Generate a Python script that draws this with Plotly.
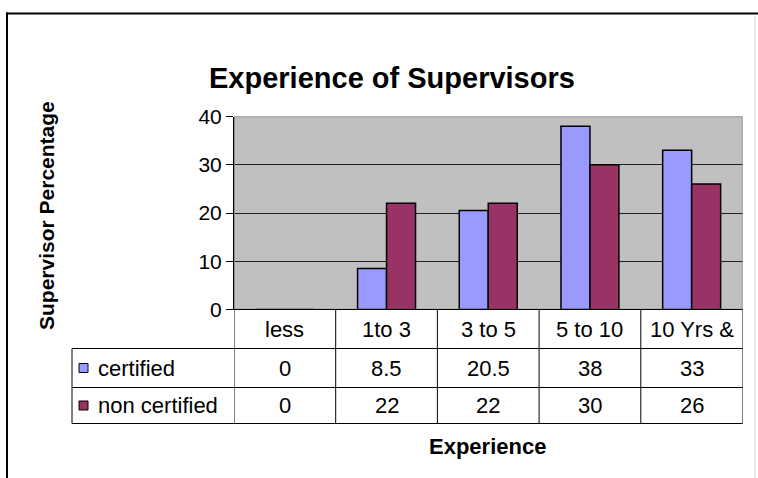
import plotly.graph_objects as go

categories = ["less", "1to 3", "3 to 5", "5 to 10", "10 Yrs &"]
certified = [0, 8.5, 20.5, 38, 33]
non_certified = [0, 22, 22, 30, 26]
series_names = ["certified", "non certified"]
series_colors = ["#9999FF", "#993366"]
y_ticks = [0, 10, 20, 30, 40]

W, H = 758, 478
def px(x):
    return x / W
def py(y):
    return 1 - y / H

FONT = "Liberation Sans, Arial, sans-serif"

fig = go.Figure()
for name, vals, col in zip(series_names, [certified, non_certified], series_colors):
    fig.add_trace(go.Bar(
        x=list(range(len(categories))), y=vals, name=name,
        marker=dict(color=col, line=dict(color="black", width=1.5)),
        showlegend=False, hoverinfo="skip"))

PLOT_L, PLOT_R, PLOT_T, PLOT_B = 234, 742.5, 116.5, 309.5
ROW1, ROW2, ROW3 = 348.5, 387.5, 423.5
LEG_L = 72

shapes = []
# plot area border
shapes.append(dict(type="rect", xref="x", yref="y", x0=-0.5, x1=len(categories) - 0.5,
                   y0=0, y1=40, line=dict(color="#808080", width=1.5), layer="above"))
# data table grid
line = dict(color="black", width=1)
shapes.append(dict(type="line", xref="paper", yref="paper", x0=px(PLOT_L), x1=px(PLOT_R),
                   y0=py(PLOT_B), y1=py(PLOT_B), line=line))
for yy in [ROW1, ROW2, ROW3]:
    shapes.append(dict(type="line", xref="paper", yref="paper", x0=px(LEG_L), x1=px(PLOT_R),
                       y0=py(yy), y1=py(yy), line=line))
for i in range(len(categories) + 1):
    shapes.append(dict(type="line", xref="x", yref="paper", x0=i - 0.5, x1=i - 0.5,
                       y0=py(PLOT_B), y1=py(ROW3), line=line))
shapes.append(dict(type="line", xref="paper", yref="paper", x0=px(LEG_L), x1=px(LEG_L),
                   y0=py(ROW1), y1=py(ROW3), line=line))
# outer chart frame
frame = dict(color="black", width=2)
shapes.append(dict(type="line", xref="paper", yref="paper", x0=px(6), x1=px(760),
                   y0=py(13.5), y1=py(13.5), line=frame))
shapes.append(dict(type="line", xref="paper", yref="paper", x0=px(7), x1=px(7),
                   y0=py(12.5), y1=py(480), line=frame))
shapes.append(dict(type="line", xref="paper", yref="paper", x0=px(755), x1=px(755),
                   y0=py(14.5), y1=py(480), line=dict(color="#d8d8d8", width=1)))

annotations = []
txt = dict(family=FONT, size=22, color="black")
row_mid = [(PLOT_B + ROW1) / 2, (ROW1 + ROW2) / 2, (ROW2 + ROW3) / 2]
for i, c in enumerate(categories):
    annotations.append(dict(x=i, xref="x", y=py(row_mid[0]), yref="paper", text=c,
                            showarrow=False, font=txt, xanchor="center", yanchor="middle"))
for r, (vals, name, col) in enumerate(zip([certified, non_certified], series_names, series_colors)):
    ym = py(row_mid[r + 1])
    for i, v in enumerate(vals):
        annotations.append(dict(x=i, xref="x", y=ym, yref="paper", text=f"{v:g}",
                                showarrow=False, font=txt, xanchor="center", yanchor="middle"))
    annotations.append(dict(x=px(96), xref="paper", y=ym, yref="paper", text=name,
                            showarrow=False, font=txt, xanchor="left", yanchor="middle"))
    shapes.append(dict(type="rect", xref="paper", yref="paper", x0=px(79), x1=px(88),
                       y0=ym - 4.5 / H, y1=ym + 4.5 / H, fillcolor=col,
                       line=dict(color="black", width=1)))

annotations.append(dict(x=px(392), y=py(78), xref="paper", yref="paper",
                        text="<b>Experience of Supervisors</b>", showarrow=False,
                        font=dict(family=FONT, size=29, color="black"),
                        xanchor="center", yanchor="middle"))
annotations.append(dict(x=px(487), y=py(446), xref="paper", yref="paper",
                        text="<b>Experience</b>", showarrow=False,
                        font=dict(family=FONT, size=22, color="black"),
                        xanchor="center", yanchor="middle"))
annotations.append(dict(x=px(46), y=py(216), xref="paper", yref="paper",
                        text="<b>Supervisor Percentage</b>", showarrow=False, textangle=-90,
                        font=dict(family=FONT, size=21, color="black"),
                        xanchor="center", yanchor="middle"))

fig.update_layout(
    width=W, height=H, autosize=False,
    margin=dict(l=0, r=0, t=0, b=0, pad=0),
    paper_bgcolor="white", plot_bgcolor="#C0C0C0",
    barmode="group", bargap=0.43, bargroupgap=0,
    font=dict(family=FONT, size=21, color="black"),
    xaxis=dict(domain=[px(PLOT_L), px(PLOT_R)], range=[-0.5, len(categories) - 0.5],
               showticklabels=False, showgrid=False, zeroline=False, ticks="",
               fixedrange=True, automargin=False),
    yaxis=dict(domain=[py(PLOT_B), py(PLOT_T)], range=[0, 40], tickvals=y_ticks,
               showgrid=True, gridcolor="#222222", gridwidth=1, zeroline=False,
               showline=True, linecolor="black", linewidth=1,
               ticks="outside", ticklen=7, tickcolor="black", automargin=False,
               tickfont=dict(family=FONT, size=21, color="black"), fixedrange=True),
    shapes=shapes, annotations=annotations,
)

fig.write_html("out.html", config={"displayModeBar": False},
               post_script="document.body.style.margin='0';document.body.style.overflow='hidden';")
